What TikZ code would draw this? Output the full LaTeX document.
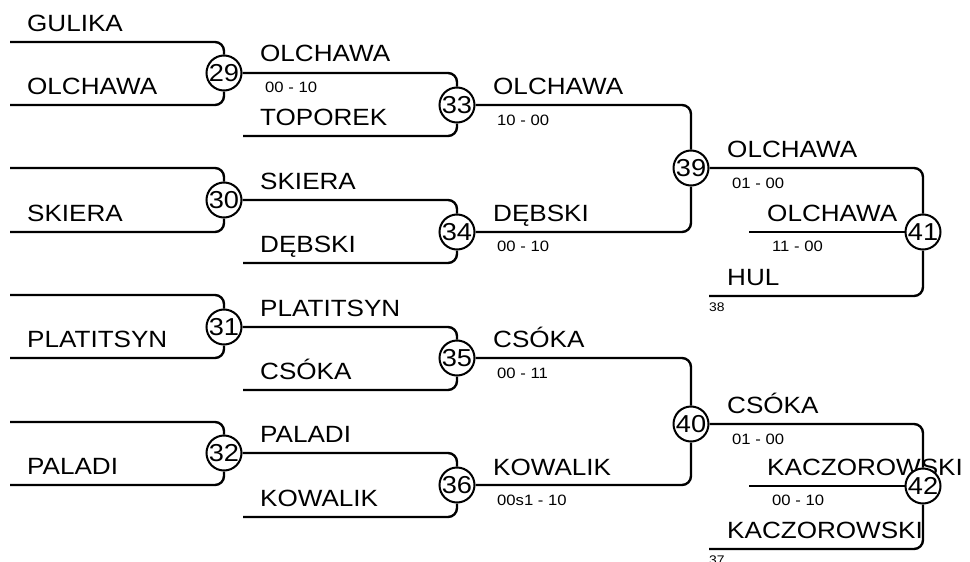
\documentclass[tikz,border=0pt]{standalone}
\usepackage{fontspec}
\setmainfont[FakeStretch=1.11]{Liberation Sans}
\tikzset{
  bracket/.style={line width=2.4pt, rounded corners=9pt},
  game/.style={circle, draw, line width=2pt, fill=white, inner sep=0pt, minimum size=35pt, font=\fontsize{24.5}{24}\selectfont},
  player/.style={anchor=base west, inner sep=0pt, font=\fontsize{23.5}{24}\selectfont},
  score/.style={anchor=base west, inner sep=0pt, font=\fontsize{15}{15}\selectfont},
  seed/.style={anchor=base west, inner sep=0pt, font=\fontsize{12.5}{12}\selectfont},
}
\begin{document}
\begin{tikzpicture}[x=1pt, y=-1pt]
    \useasboundingbox (0,0) rectangle (970,562);

    % Players, round 1
    \node[player] (r1a) at (27, 31.5) {GULIKA};
    \node[player] (r1b) at (27, 94.5) {OLCHAWA};
    \node[player] (r1c) at (27, 221.5) {SKIERA};
    \node[player] (r1d) at (27, 347.5) {PLATITSYN};
    \node[player] (r1e) at (27, 474.5) {PALADI};

    % Players, round 2
    \node[player] (r2a) at (260, 61.5) {OLCHAWA};
    \node[player] (r2b) at (260, 125.5) {TOPOREK};
    \node[player] (r2c) at (260, 189.5) {SKIERA};
    \node[player] (r2d) at (260, 252.5) {DĘBSKI};
    \node[player] (r2e) at (260, 316.5) {PLATITSYN};
    \node[player] (r2f) at (260, 379.5) {CSÓKA};
    \node[player] (r2g) at (260, 442.5) {PALADI};
    \node[player] (r2h) at (260, 506.5) {KOWALIK};

    % Players, round 3
    \node[player] (r3a) at (493, 94.5) {OLCHAWA};
    \node[player] (r3b) at (493, 221.5) {DĘBSKI};
    \node[player] (r3c) at (493, 347.5) {CSÓKA};
    \node[player] (r3d) at (493, 475.5) {KOWALIK};

    % Players, places
    \node[player] (r4a) at (727, 157.5) {OLCHAWA};
    \node[player] (r4b) at (767, 221.5) {OLCHAWA};
    \node[player] (r4c) at (727, 285.5) {HUL};
    \node[player] (r4d) at (727, 413.5) {CSÓKA};
    \node[player] (r4e) at (767, 475.5) {KACZOROWSKI};
    \node[player] (r4f) at (727, 538.5) {KACZOROWSKI};

    % Scores
    \node[score] (s29) at (265, 92) {00 - 10};
    \node[score] (s33) at (497, 125) {10 - 00};
    \node[score] (s34) at (497, 251) {00 - 10};
    \node[score] (s35) at (497, 378) {00 - 11};
    \node[score] (s36) at (497, 505) {00s1 - 10};
    \node[score] (s39) at (732, 188) {01 - 00};
    \node[score] (s41) at (772, 251) {11 - 00};
    \node[score] (s40) at (732, 444) {01 - 00};
    \node[score] (s42) at (772, 505) {00 - 10};
    \node[seed] (l38) at (709, 311) {38};
    \node[seed] (l37) at (709, 564) {37};

    % Matches
    \node[game] (m29) at (224, 73) {29};
    \node[game] (m30) at (224, 200) {30};
    \node[game] (m31) at (224, 327) {31};
    \node[game] (m32) at (224, 453) {32};
    \node[game] (m33) at (457, 105) {33};
    \node[game] (m34) at (457, 232) {34};
    \node[game] (m35) at (457, 358) {35};
    \node[game] (m36) at (457, 485) {36};
    \node[game] (m39) at (691, 168) {39};
    \node[game] (m40) at (691, 424) {40};
    \node[game] (m41) at (923, 232) {41};
    \node[game] (m42) at (923, 486) {42};

    % Line ends
    \coordinate (a1) at (10, 42);
    \coordinate (a2) at (10, 105);
    \coordinate (a3) at (10, 168);
    \coordinate (a4) at (10, 232);
    \coordinate (a5) at (10, 295);
    \coordinate (a6) at (10, 358);
    \coordinate (a7) at (10, 422);
    \coordinate (a8) at (10, 485);
    \coordinate (b1) at (243, 136);
    \coordinate (b2) at (243, 263);
    \coordinate (b3) at (243, 390);
    \coordinate (b4) at (243, 517);
    \coordinate (c1) at (749, 232);
    \coordinate (c2) at (709, 296);
    \coordinate (c3) at (749, 486);
    \coordinate (c4) at (709, 549);

    % Round 1
    \draw[bracket] (a1) -| (m29);
    \draw[bracket] (a2) -| (m29);
    \draw[bracket] (a3) -| (m30);
    \draw[bracket] (a4) -| (m30);
    \draw[bracket] (a5) -| (m31);
    \draw[bracket] (a6) -| (m31);
    \draw[bracket] (a7) -| (m32);
    \draw[bracket] (a8) -| (m32);

    % Round 2
    \draw[bracket] (m29) -| (m33);
    \draw[bracket] (b1) -| (m33);
    \draw[bracket] (m30) -| (m34);
    \draw[bracket] (b2) -| (m34);
    \draw[bracket] (m31) -| (m35);
    \draw[bracket] (b3) -| (m35);
    \draw[bracket] (m32) -| (m36);
    \draw[bracket] (b4) -| (m36);

    % Round 3
    \draw[bracket] (m33) -| (m39);
    \draw[bracket] (m34) -| (m39);
    \draw[bracket] (m35) -| (m40);
    \draw[bracket] (m36) -| (m40);

    % Places
    \draw[bracket] (m39) -| (m41);
    \draw[bracket] (c1) -- (m41);
    \draw[bracket] (c2) -| (m41);
    \draw[bracket] (m40) -| (m42);
    \draw[bracket] (c3) -- (m42);
    \draw[bracket] (c4) -| (m42);
\end{tikzpicture}
\end{document}
